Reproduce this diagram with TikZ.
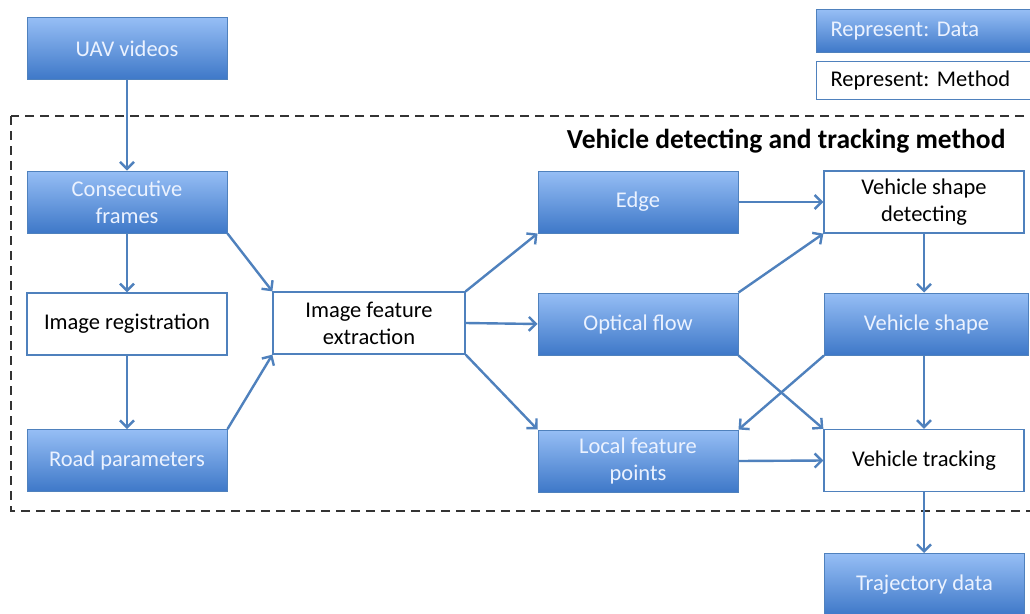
\documentclass[tikz,border=0pt]{standalone}
\usepackage{fontspec}
\setmainfont{Carlito}
\frenchspacing
\usetikzlibrary{arrows.meta}
\definecolor{edgeblue}{RGB}{79,129,189}
\definecolor{topblue}{RGB}{150,190,245}
\definecolor{botblue}{RGB}{62,120,200}
\definecolor{datatext}{RGB}{235,242,255}
\tikzset{
  databox/.style={draw=edgeblue, line width=1pt, top color=topblue, bottom color=botblue,
    minimum width=200pt, minimum height=62pt, align=center, text=datatext,
    font=\fontsize{22.5}{27}\selectfont, inner sep=2pt},
  methodbox/.style={draw=edgeblue, line width=1.3pt, fill=white,
    minimum width=200pt, minimum height=62pt, align=center, text=black,
    font=\fontsize{22.5}{27}\selectfont, inner sep=2pt},
  flow/.style={draw=edgeblue, line width=2.4pt, -{Straight Barb[length=7pt,width=14pt,line width=2.4pt]}},
}
\begin{document}
\begin{tikzpicture}[x=1pt,y=-1pt]
\clip (0,0) rectangle (1030,613);
\fill[white] (0,0) rectangle (1030,613);
% legend
\node[databox, minimum width=230pt, minimum height=43pt, anchor=north west, text width=210pt, align=left, inner xsep=14pt] (legdata) at (816,9) {Represent: Data};
\node[methodbox, minimum width=230pt, minimum height=38pt, anchor=north west, text width=210pt, align=left, inner xsep=14pt] (legmethod) at (816,61) {Represent: Method};
% dashed frame
\draw[dashed, line width=1.3pt, dash pattern=on 9pt off 6pt, black!80] (11,116) rectangle (1045,511);
\node[anchor=east, font=\fontsize{27.5}{32}\selectfont\bfseries] (title) at (1009,141) {Vehicle detecting and tracking method};
% nodes
\node[databox] (uav) at (127,48.5) {UAV videos};
\node[databox] (cons) at (127,202) {Consecutive\\frames};
\node[methodbox] (reg) at (127,324) {Image registration};
\node[databox] (road) at (127,460.5) {Road parameters};
\node[methodbox, minimum width=192pt] (ife) at (369,323) {Image feature\\extraction};
\node[databox] (edge) at (638,202) {Edge};
\node[databox] (opt) at (638,324) {Optical flow};
\node[databox] (loc) at (638,461) {Local feature\\points};
\node[methodbox] (vsd) at (924,202) {Vehicle shape\\detecting};
\node[databox, minimum width=204pt, anchor=west] (vs) at (824,324) {Vehicle shape};
\node[methodbox] (vt) at (924,460.5) {Vehicle tracking};
\node[databox, anchor=north west] (traj) at (824,553) {Trajectory data};
% connectors
\draw[flow] (uav) -- (cons);
\draw[flow] (cons) -- (reg);
\draw[flow] (reg) -- (road);
\draw[flow] (cons.south east) -- (ife.north west);
\draw[flow] (road.north east) -- (ife.south west);
\draw[flow] (ife.north east) -- (edge.south west);
\draw[flow] (ife.east) -- (opt.west);
\draw[flow] (ife.south east) -- (loc.north west);
\draw[flow] (edge.east) -- (vsd.west);
\draw[flow] (opt.north east) -- (vsd.south west);
\draw[flow] (vsd.south) -- (vsd.south |- vs.north);
\draw[flow] (vsd.south |- vs.south) -- (vt.north);
\draw[flow] (vs.south west) -- (loc.north east);
\draw[flow] (opt.south east) -- (vt.north west);
\draw[flow] (loc.east) -- (vt.west);
\draw[flow] (vt.south) -- (vt.south |- traj.north);
\end{tikzpicture}
\end{document}
